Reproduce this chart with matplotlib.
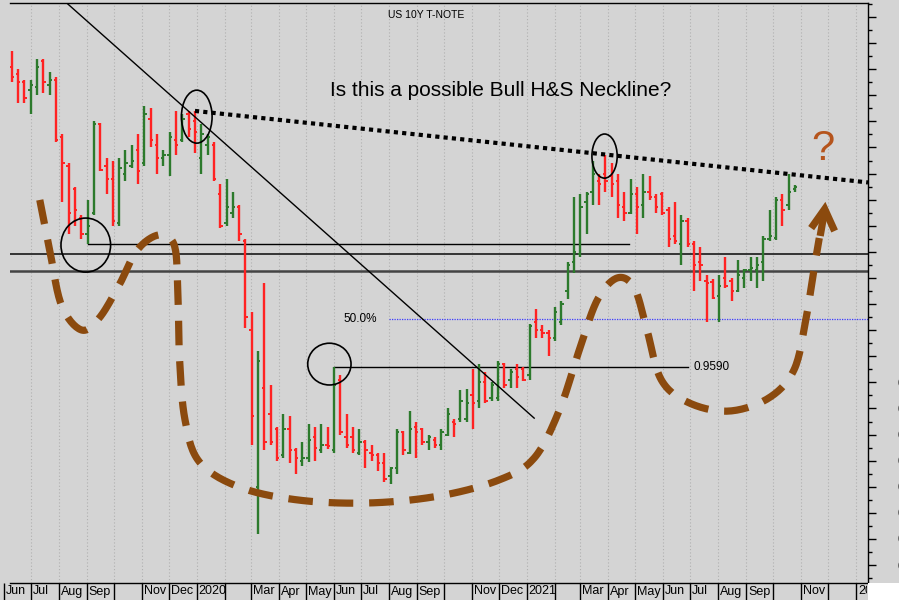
import numpy as np
import pandas as pd
import matplotlib
matplotlib.use('Agg')
import matplotlib.pyplot as plt
import matplotlib.dates as mdates
import matplotlib.transforms as mtransforms
from matplotlib.patches import Ellipse, Rectangle
from matplotlib.ticker import MultipleLocator

plt.rcParams['font.family'] = ['Liberation Sans', 'DejaVu Sans']

# weekly bars, US 10Y yield (%)
weeks = pd.date_range('2019-06-10', periods=125, freq='W-MON')

opens = [2.11, 2.08, 2.05, 2.02, 2.03, 2.13, 2.04, 2.06, 1.84, 1.73,
         1.64, 1.53, 1.47, 1.55, 1.89, 1.73, 1.68, 1.51, 1.70, 1.73,
         1.79, 1.74, 1.91, 1.81, 1.76, 1.77, 1.83, 1.83, 1.93, 1.90,
         1.76, 1.81, 1.81, 1.62, 1.51, 1.55, 1.57, 1.44, 1.10, 0.50,
         0.88, 0.78, 0.72, 0.62, 0.72, 0.64, 0.60, 0.61, 0.69, 0.64,
         0.66, 0.64, 0.91, 0.69, 0.69, 0.63, 0.67, 0.63, 0.62, 0.59,
         0.54, 0.57, 0.71, 0.63, 0.73, 0.72, 0.67, 0.68, 0.66, 0.70,
         0.75, 0.76, 0.76, 0.85, 0.83, 0.90, 0.84, 0.84, 0.97, 0.91,
         0.95, 0.95, 0.93, 1.13, 1.10, 1.09, 1.07, 1.13, 1.25, 1.36,
         1.39, 1.59, 1.63, 1.67, 1.70, 1.69, 1.67, 1.57, 1.55, 1.62,
         1.58, 1.63, 1.61, 1.62, 1.56, 1.46, 1.43, 1.52, 1.43, 1.36,
         1.29, 1.285, 1.23, 1.30, 1.29, 1.25, 1.30, 1.33, 1.33, 1.36,
         1.45, 1.455, 1.60, 1.58, 1.64]
highs = [2.17, 2.10, 2.06, 2.06, 2.14, 2.14, 2.09, 2.07, 1.85, 1.74,
         1.65, 1.54, 1.60, 1.90, 1.895, 1.76, 1.75, 1.76, 1.79, 1.81,
         1.85, 1.96, 1.95, 1.85, 1.79, 1.86, 1.94, 1.93, 1.94, 1.94,
         1.89, 1.85, 1.82, 1.66, 1.68, 1.63, 1.58, 1.45, 1.17, 1.02,
         1.28, 0.89, 0.73, 0.78, 0.77, 0.65, 0.67, 0.74, 0.73, 0.74,
         0.73, 0.959, 0.93, 0.78, 0.73, 0.72, 0.68, 0.66, 0.63, 0.63,
         0.575, 0.72, 0.715, 0.79, 0.75, 0.725, 0.70, 0.69, 0.72, 0.80,
         0.76, 0.87, 0.875, 0.95, 0.97, 0.94, 0.90, 0.98, 0.975, 0.95,
         0.97, 0.96, 1.125, 1.18, 1.12, 1.10, 1.19, 1.21, 1.36, 1.61,
         1.62, 1.63, 1.75, 1.70, 1.77, 1.74, 1.70, 1.63, 1.68, 1.65,
         1.70, 1.69, 1.62, 1.63, 1.57, 1.59, 1.54, 1.53, 1.44, 1.42,
         1.31, 1.295, 1.31, 1.38, 1.30, 1.37, 1.335, 1.38, 1.38, 1.46,
         1.56, 1.61, 1.62, 1.70, 1.655]
lows = [2.05, 1.97, 1.97, 1.93, 2.00, 2.01, 2.00, 1.82, 1.59, 1.47,
        1.50, 1.45, 1.43, 1.54, 1.71, 1.62, 1.50, 1.50, 1.67, 1.72,
        1.66, 1.73, 1.80, 1.70, 1.73, 1.69, 1.77, 1.82, 1.84, 1.78,
        1.70, 1.77, 1.67, 1.49, 1.50, 1.53, 1.44, 1.11, 0.66, 0.32,
        0.64, 0.66, 0.60, 0.61, 0.59, 0.55, 0.58, 0.595, 0.60, 0.63,
        0.645, 0.63, 0.70, 0.65, 0.63, 0.62, 0.57, 0.60, 0.56, 0.52,
        0.51, 0.55, 0.62, 0.625, 0.61, 0.66, 0.64, 0.65, 0.64, 0.695,
        0.69, 0.75, 0.75, 0.72, 0.80, 0.82, 0.83, 0.83, 0.88, 0.88,
        0.88, 0.905, 0.91, 1.07, 1.07, 1.00, 1.06, 1.12, 1.22, 1.32,
        1.38, 1.47, 1.58, 1.58, 1.63, 1.61, 1.53, 1.52, 1.545, 1.47,
        1.53, 1.60, 1.55, 1.54, 1.42, 1.43, 1.35, 1.42, 1.25, 1.29,
        1.13, 1.22, 1.13, 1.26, 1.21, 1.245, 1.26, 1.29, 1.26, 1.29,
        1.44, 1.445, 1.50, 1.56, 1.63]
closes = [2.07, 2.05, 1.99, 2.04, 2.11, 2.05, 2.06, 1.83, 1.74, 1.55,
          1.56, 1.47, 1.50, 1.89, 1.715, 1.68, 1.52, 1.72, 1.74, 1.75,
          1.71, 1.93, 1.83, 1.76, 1.77, 1.84, 1.81, 1.91, 1.87, 1.86,
          1.85, 1.84, 1.68, 1.50, 1.57, 1.57, 1.47, 1.15, 0.77, 0.98,
          0.67, 0.67, 0.61, 0.72, 0.64, 0.61, 0.61, 0.68, 0.65, 0.66,
          0.655, 0.89, 0.71, 0.66, 0.64, 0.67, 0.64, 0.62, 0.59, 0.53,
          0.57, 0.71, 0.64, 0.72, 0.71, 0.67, 0.69, 0.66, 0.71, 0.78,
          0.74, 0.83, 0.82, 0.82, 0.90, 0.83, 0.89, 0.97, 0.89, 0.94,
          0.92, 0.91, 1.115, 1.10, 1.09, 1.07, 1.17, 1.20, 1.35, 1.40,
          1.57, 1.62, 1.70, 1.66, 1.67, 1.66, 1.58, 1.55, 1.62, 1.57,
          1.63, 1.61, 1.57, 1.55, 1.45, 1.44, 1.52, 1.43, 1.35, 1.35,
          1.28, 1.225, 1.27, 1.27, 1.25, 1.31, 1.33, 1.34, 1.35, 1.45,
          1.46, 1.60, 1.56, 1.63, 1.65]

# drawn levels
aug_low = 1.430
band_levels = [1.393, 1.325]
fib_50 = 1.143
june_high = 0.959

# month axis labels ('' = tick without label)
month_labels = ['Jun', 'Jul', 'Aug', 'Sep', '', 'Nov', 'Dec',
                '2020', '', 'Mar', 'Apr', 'May', 'Jun', 'Jul', 'Aug', 'Sep', '', 'Nov', 'Dec',
                '2021', '', 'Mar', 'Apr', 'May', 'Jun', 'Jul', 'Aug', 'Sep', '', 'Nov', '',
                '2022']
months = pd.date_range('2019-06-01', periods=len(month_labels), freq='MS')

# hand-drawn H&S sketch (date, yield)
sketch_dates = ['2019-07-11', '2019-07-22', '2019-08-04', '2019-08-26', '2019-09-15',
                '2019-10-07', '2019-10-27', '2019-11-20', '2019-12-07', '2019-12-11',
                '2019-12-13', '2019-12-19', '2020-01-04', '2020-02-17', '2020-04-23',
                '2020-07-10', '2020-09-26', '2020-12-01', '2021-01-09', '2021-02-06',
                '2021-02-28', '2021-03-20', '2021-04-11', '2021-04-30', '2021-05-14',
                '2021-05-30', '2021-06-30', '2021-08-13', '2021-09-26', '2021-10-24',
                '2021-11-06', '2021-11-15', '2021-11-21']
sketch_vals = [1.599, 1.407, 1.196, 1.101, 1.147, 1.273, 1.407, 1.465, 1.426, 1.254,
               0.986, 0.756, 0.595, 0.499, 0.449, 0.438, 0.465, 0.526, 0.610, 0.794,
               1.024, 1.216, 1.300, 1.262, 1.101, 0.909, 0.821, 0.790, 0.840, 0.948,
               1.139, 1.331, 1.453]

# circles (center date, center yield, width days, height yield)
circles = [('2019-08-31', 1.426, 55, 0.207),
           ('2020-01-01', 1.918, 34, 0.203),
           ('2020-05-27', 0.970, 48, 0.160),
           ('2021-03-28', 1.767, 28, 0.169)]


def d(s):
    return mdates.date2num(pd.Timestamp(s))


def catmull(xs, ys, n=16):
    pts = np.column_stack([xs, ys])
    pts = np.vstack([pts[0], pts, pts[-1]])
    out = []
    t = np.linspace(0, 1, n, endpoint=False)[:, None]
    for i in range(1, len(pts) - 2):
        p0, p1, p2, p3 = pts[i - 1], pts[i], pts[i + 1], pts[i + 2]
        out.append(0.5 * (2 * p1 + (p2 - p0) * t + (2 * p0 - 5 * p1 + 4 * p2 - p3) * t ** 2
                          + (3 * p1 - p0 - 3 * p2 + p3) * t ** 3))
    out.append(pts[-2][None])
    return np.vstack(out)


bg = '#d4d4d4'
fig = plt.figure(figsize=(8.99, 6.0), dpi=100, facecolor=bg)
ax = fig.add_axes([10 / 899, 17 / 600, 858 / 899, 580 / 600])
ax.set_facecolor(bg)

x0, x1 = d('2019-06-08'), d('2022-01-14')
ax.set_xlim(x0, x1)
ax.set_ylim(0.1313, 2.3535)

# month grid
mx = mdates.date2num(months)
ax.vlines(mx, 0, 1, transform=ax.get_xaxis_transform(), colors='#b0b0b0',
          lw=0.8, linestyles=(0, (1, 2)), zorder=0)

# OHLC bars
x = mdates.date2num(weeks)
o = np.array(opens); c = np.array(closes)
cols = np.where(c >= o, '#2c7a2c', '#ff2222')
ax.vlines(x, lows, highs, colors=cols, lw=1.7, zorder=3)
ax.hlines(o, x - 2.6, x, colors=cols, lw=1.4, zorder=3)
ax.hlines(c, x, x + 2.6, colors=cols, lw=1.4, zorder=3)

# levels
ax.plot([weeks[12], pd.Timestamp('2021-04-24')], [aug_low, aug_low], color='black', lw=1.0, zorder=2)
ax.axhline(band_levels[0], color='#333333', lw=1.4, zorder=2)
ax.axhline(band_levels[1], color='#444444', lw=1.8, zorder=2)
ax.plot([pd.Timestamp('2020-08-01'), pd.Timestamp('2022-01-14')], [fib_50, fib_50],
        color='#3b3bff', lw=0.9, linestyle=(0, (1, 1)), zorder=2)
ax.plot([weeks[51], pd.Timestamp('2021-06-28')], [june_high, june_high], color='black', lw=1.0, zorder=2)
ax.text(d('2020-06-12'), fib_50, '50.0%', fontsize=8.5, va='center', ha='left')
ax.text(d('2021-07-05'), june_high, '0.9590', fontsize=8.5, va='center', ha='left')

# trend line and neckline
ax.plot([d('2019-08-10'), d('2021-01-09')], [2.353, 0.763], color='black', lw=1.0, zorder=4)
ax.plot([d('2019-12-30'), x1], [1.940, 1.666], color='black', lw=3.0,
        linestyle=(0, (1, 1)), zorder=4)

for cd, cv, w, h in circles:
    ax.add_patch(Ellipse((d(cd), cv), w, h, fill=False, ec='black', lw=1.2, zorder=5))

# brown sketch
brown = '#8b4a0e'
pts = catmull([d(s) for s in sketch_dates], sketch_vals)
ax.plot(pts[:, 0], pts[:, 1], color=brown, lw=5.2, linestyle=(0, (3.4, 2.2)),
        dash_capstyle='butt', zorder=6)
ax.plot([d('2021-11-12'), d('2021-11-27'), d('2021-12-08')], [1.491, 1.564, 1.480],
        color=brown, lw=5.2, solid_capstyle='butt', solid_joinstyle='miter', zorder=6)
ax.plot([d('2021-11-22'), d('2021-11-27')], [1.461, 1.560], color=brown, lw=5.2,
        solid_capstyle='butt', zorder=6)
ax.text(d('2021-11-25'), 1.795, '?', color='#b5541c', fontsize=30, ha='center', va='center')

# right axis
ax.yaxis.tick_right()
ax.yaxis.set_major_locator(MultipleLocator(0.1))
ax.yaxis.set_minor_locator(MultipleLocator(0.05))
ax.yaxis.set_major_formatter(matplotlib.ticker.FormatStrFormatter('%.1f'))
ax.tick_params(axis='y', which='major', length=6, width=1, direction='out', pad=15.5, labelsize=9)
ax.tick_params(axis='y', which='minor', length=3, width=1, direction='out')
ax.set_xticks([])
ax.spines['left'].set_visible(False)
for s in ['right', 'bottom', 'top']:
    ax.spines[s].set_linewidth(1.0)

# month labels in bottom strip
trans = mtransforms.blended_transform_factory(ax.transData, ax.transAxes)
strip = -17 / 580
ax.vlines(mx, strip, 0, transform=trans, colors='black', lw=1.0, clip_on=False)
clipbox = mtransforms.TransformedBbox(mtransforms.Bbox([[0, 0], [867 / 899, 1]]), fig.transFigure)
for m, lab in zip(mx, month_labels):
    if lab:
        t = ax.text(m + 2, strip / 2, lab, transform=trans, fontsize=9, ha='left', va='center')
        t.set_clip_box(clipbox)
        t.set_clip_on(True)
fig.patches.append(Rectangle((868 / 899, 0), 31 / 899, 17 / 600, transform=fig.transFigure,
                             facecolor='white', edgecolor='none'))

fig.text(426 / 899, 1 - 15 / 600, 'US 10Y T-NOTE', fontsize=7.5, ha='center', va='center')
fig.text(330 / 899, 1 - 90 / 600, 'Is this a possible Bull H&S Neckline?', fontsize=15,
         ha='left', va='center')

fig.savefig('out.png', dpi=100, facecolor=fig.get_facecolor())
